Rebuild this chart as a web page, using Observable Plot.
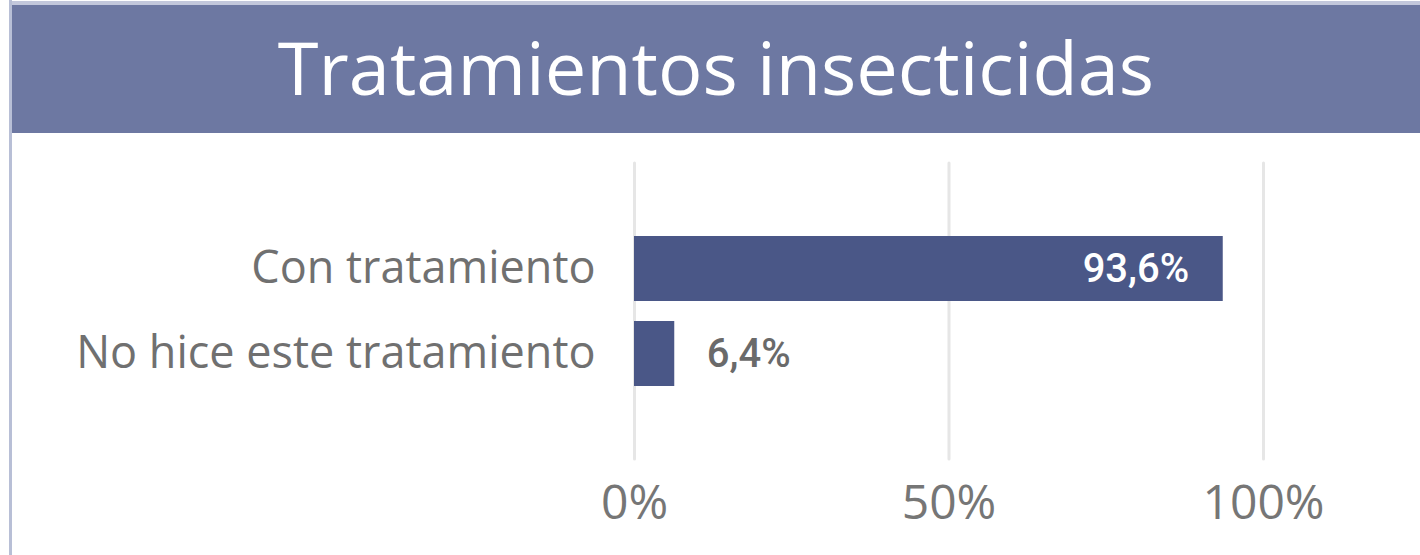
<!DOCTYPE html>
<html><head><meta charset="utf-8">
<script src="https://cdn.jsdelivr.net/npm/d3@7"></script>
<script src="https://cdn.jsdelivr.net/npm/@observablehq/plot@0.6"></script>
<style>
html,body{margin:0;padding:0;background:#fff;}
#wrap{position:relative;width:1420px;height:555px;overflow:hidden;background:#fff;}
#lb{position:absolute;left:9px;top:0;width:3px;height:555px;background:#b8bfd6;}
#tb{position:absolute;left:9px;top:1px;width:1411px;height:4px;background:#c3c8dc;}
#title{position:absolute;left:12px;top:5px;width:1408px;height:128px;background:#6d78a2;color:#fff;
  font-family:"Open Sans",sans-serif;font-size:74px;text-align:center;line-height:124px;margin:0;font-weight:400;}
#chart{position:absolute;left:0;top:133px;}
</style></head>
<body>
<div id="wrap">
  <div id="tb"></div>
  <div id="lb"></div>
  <h1 id="title">Tratamientos insecticidas</h1>
  <div id="chart"></div>
</div>
<script>
const categories = ["Con tratamiento", "No hice este tratamiento"];
const values = [93.6, 6.4];
const xTicks = [0, 50, 100];
const insideLabel = [true, false];

const data = categories.map((c, i) => ({category: c, value: values[i], inside: insideLabel[i]}));
const fmt = v => v.toFixed(1).replace(".", ",") + "%";

const chart = Plot.plot({
  width: 1420,
  height: 422,
  marginLeft: 634,
  marginRight: 157,
  marginTop: 30,
  marginBottom: 96,
  style: {background: "transparent", overflow: "visible"},
  x: {domain: [0, 100], label: null},
  y: {domain: categories, paddingInner: 0.24, paddingOuter: 0.85, label: null},
  marks: [
    Plot.ruleX(xTicks, {stroke: "#e6e6e6", strokeWidth: 3, strokeLinecap: "round"}),
    Plot.barX(data, {x: "value", y: "category", fill: "#4a5787"}),
    Plot.text(data.filter(d => d.inside), {x: "value", y: "category", text: d => fmt(d.value),
      textAnchor: "end", dx: -34, fill: "#ffffff", fontSize: 40, fontWeight: 500,
      fontFamily: "Roboto, sans-serif"}),
    Plot.text(data.filter(d => !d.inside), {x: "value", y: "category", text: d => fmt(d.value),
      textAnchor: "start", dx: 32, fill: "#6a6a6a", fontSize: 40, fontWeight: 500,
      fontFamily: "Roboto, sans-serif"}),
    Plot.axisX({ticks: xTicks, tickFormat: d => d + "%", tickSize: 0, tickPadding: 25, label: null,
      fontSize: 48, fill: "#767676", fontFamily: "'Open Sans', sans-serif"}),
    Plot.axisY({tickSize: 0, tickPadding: 39, fontSize: 45, fill: "#707070", label: null,
      fontFamily: "'Open Sans', sans-serif"})
  ]
});
document.getElementById("chart").appendChild(chart);
</script>
</body></html>
